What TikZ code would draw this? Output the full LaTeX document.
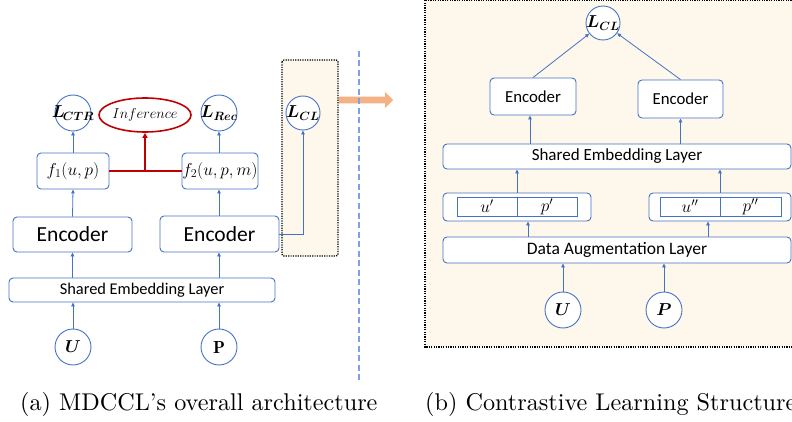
\documentclass[tikz,border=0pt]{standalone}
\usepackage{fontspec}
\usepackage{bm}
\newfontfamily\calibri{Carlito}
\newfontfamily\capfont{lmroman10-regular}[Extension=.otf,Ligatures=TeX]
\usetikzlibrary{arrows.meta,shapes.geometric,calc}
\definecolor{ablue}{HTML}{4472C4}
\definecolor{ared}{HTML}{C00000}
\definecolor{aorange}{HTML}{F4B183}
\definecolor{cream}{HTML}{FEF8EC}
\definecolor{dblue}{HTML}{7EA1E3}
\newcommand{\circtext}[1]{\makebox[24pt]{#1}}
\begin{document}
\begin{tikzpicture}[x=1pt,y=-1pt,
  box/.style={draw=ablue,line width=0.9pt,rounded corners=4pt,inner sep=0pt,fill=white},
  circ/.style={circle,draw=ablue,line width=0.9pt,minimum size=36pt,inner sep=0pt,fill=white},
  cell/.style={draw=ablue,line width=0.9pt,inner sep=0pt,minimum height=19pt},
  arr/.style={draw=ablue,line width=0.8pt,-{Triangle[length=4pt,width=3.5pt]}},
  mathtxt/.style={font=\fontsize{17.5}{20}\selectfont},
  dotbox/.style={draw=black,line width=1.3pt,dash pattern=on 1.2pt off 1.2pt,fill=cream}]
\useasboundingbox (0,0) rectangle (792,422);
\clip (0,0) rectangle (792,422);

% ---------- left panel ----------
\draw[dotbox,rounded corners=2pt] (282,60) rectangle (338,256);
\node[circ,mathtxt] (lctr) at (73,113) {\circtext{$\bm{L}_{\!\bm{CTR}}$}};
\node[ellipse,draw=ared,line width=1.6pt,minimum width=90pt,minimum height=34pt,inner sep=0pt,font=\fontsize{14}{16}\selectfont] (inf) at (145,115) {$Inference$};
\node[circ,mathtxt] (lrec) at (219,113) {\circtext{$\bm{L}_{\bm{Rec}}$}};
\node[circ,mathtxt,minimum size=34pt] (lcl) at (303,113) {\circtext{$\bm{L}_{\bm{CL}}$}};

\node[box,mathtxt,minimum width=72pt,minimum height=36pt] (f1) at (73,171) {$f_1(u,p)$};
\node[box,mathtxt,minimum width=76pt,minimum height=36pt] (f2) at (220,171) {$f_2(u,p,m)$};

\node[box,minimum width=119pt,minimum height=35pt,font=\calibri\fontsize{21.5}{24}\selectfont] (encL) at (72.5,234.5) {Encoder};
\node[box,minimum width=119pt,minimum height=36pt,font=\calibri\fontsize{21.5}{24}\selectfont] (encR) at (219.5,234) {Encoder};

\node[box,minimum width=266pt,minimum height=24pt,font=\calibri\fontsize{16.4}{19}\selectfont] (shared) at (142,290) {Shared Embedding Layer};

\node[circ,mathtxt] (uL) at (73,347) {\circtext{$\bm{U}$}};
\node[circ,mathtxt] (pL) at (219,347) {\circtext{$\mathbf{P}$}};

\draw[arr] (uL) -- (uL|-shared.south);
\draw[arr] (pL) -- (pL|-shared.south);
\draw[arr] (encL.south|-shared.north) -- (encL.south);
\draw[arr] (pL|-shared.north) -- (pL|-encR.south);
\draw[arr] (encL.north) -- (f1.south);
\draw[arr] (pL|-encR.north) -- (pL|-f2.south);
\draw[arr] (f1.north) -- (lctr.south);
\draw[arr] (pL|-f2.north) -- (lrec.south);
\draw[arr] (encR.east) -| (lcl.south);

\draw[ared,line width=1.6pt] (f1.east) -- (f2.west);
\draw[ared,line width=1.6pt,-{Triangle[length=5pt,width=5pt]}] (inf.south|-f1.east) -- (inf.south);

% orange arrow
\fill[aorange] (339,96.7) -- (385,96.7) -- (385,92) -- (393,100) -- (385,108) -- (385,103.3) -- (339,103.3) -- cycle;

% dashed divider
\draw[dblue,line width=1.5pt,dash pattern=on 6pt off 3.5pt] (359,51) -- (359,382);

% ---------- right panel ----------
\draw[dotbox] (425,0.3) rectangle (810,347);
\node[circ,mathtxt,minimum size=34pt] (lclR) at (603,23) {\circtext{$\bm{L}_{\bm{CL}}$}};
\node[box,minimum width=86pt,minimum height=37pt,font=\calibri\fontsize{16.8}{19}\selectfont] (encA) at (533,96.5) {Encoder};
\node[box,minimum width=85pt,minimum height=38pt,font=\calibri\fontsize{16.8}{19}\selectfont] (encB) at (680.5,99) {Encoder};
\node[box,minimum width=348pt,minimum height=25pt,font=\calibri\fontsize{17}{20}\selectfont] (sharedR) at (617,156.5) {Shared Embedding Layer};

\node[box,minimum width=148pt,minimum height=28pt] (pairA) at (517,207) {};
\node[cell,mathtxt,minimum width=60pt] (ua) at (487,206.5) {$u'$};
\node[cell,mathtxt,minimum width=60pt] (pa) at (547,206.5) {$p'$};
\node[box,minimum width=142pt,minimum height=28pt] (pairB) at (720,207) {};
\node[cell,mathtxt,minimum width=60pt] (ub) at (690,206.5) {$u''$};
\node[cell,mathtxt,minimum width=61pt] (pb) at (750.5,206.5) {$p''$};

\node[box,minimum width=348pt,minimum height=26pt,font=\calibri\fontsize{17.5}{20}\selectfont] (da) at (617,250) {Data Augmentation Layer};

\node[circ,mathtxt] (uR) at (563,310) {\circtext{$\bm{U}$}};
\node[circ,mathtxt] (pR) at (664,310) {\circtext{$\bm{P}$}};

\draw[arr] (uR) -- (uR|-da.south);
\draw[arr] (pR) -- (pR|-da.south);
\draw[arr] (528,0 |- da.north) -- (528,0 |- pairA.south);
\draw[arr] (708,0 |- da.north) -- (708,0 |- pairB.south);
\draw[arr] (pairA.north) -- (pairA|-sharedR.south);
\draw[arr] (pairB.north) -- (pairB|-sharedR.south);
\draw[arr] (530,0 |- sharedR.north) -- (530,0 |- encA.south);
\draw[arr] (encB.south|-sharedR.north) -- (encB.south);
\draw[arr] (encA.north) -- (lclR);
\draw[arr] (encB.north) -- (lclR);

% ---------- captions ----------
\node[anchor=base west,inner sep=0pt,font=\capfont\fontsize{24.2}{28}\selectfont] (capa) at (20,410) {(a) MDCCL's overall architecture};
\node[anchor=base west,inner sep=0pt,font=\capfont\fontsize{24.2}{28}\selectfont] (capb) at (425,410) {(b) Contrastive Learning Structure};
\end{tikzpicture}
\end{document}
